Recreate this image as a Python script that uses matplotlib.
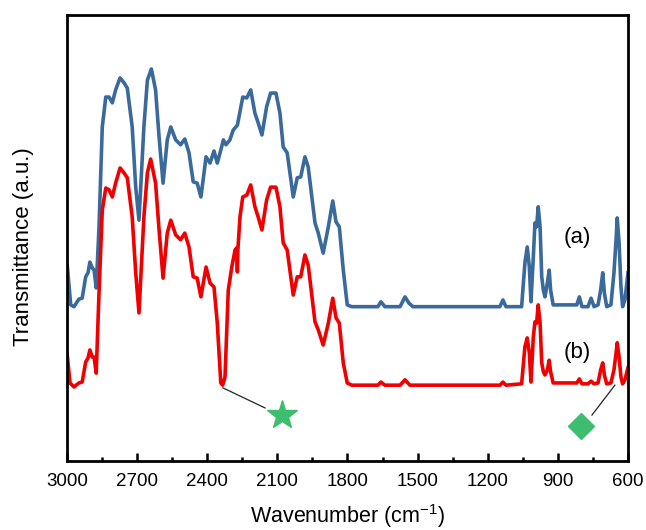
import matplotlib
matplotlib.use("Agg")
import matplotlib.pyplot as plt
from matplotlib.ticker import MultipleLocator

plt.rcParams["font.family"] = ["Liberation Sans", "DejaVu Sans"]
plt.rcParams["mathtext.fontset"] = "custom"
plt.rcParams["mathtext.rm"] = "Liberation Sans"

# Spectrum (a) - wavenumber (cm-1) and transmittance (a.u.)
wn_a = [2999, 2984, 2970, 2949, 2935, 2920, 2910, 2902, 2892, 2884, 2875, 2863, 2849,
        2834, 2820, 2806, 2792, 2773, 2756, 2742, 2721, 2706, 2692, 2671, 2656, 2639,
        2621, 2606, 2589, 2571, 2556, 2535, 2514, 2496, 2478, 2460, 2443, 2427, 2405,
        2388, 2371, 2357, 2342, 2331, 2320, 2303, 2289, 2271, 2248, 2231, 2214, 2196,
        2182, 2166, 2146, 2129, 2106, 2089, 2075, 2058, 2032, 2015, 2000, 1982, 1968,
        1939, 1925, 1904, 1882, 1863, 1849, 1835, 1818, 1801, 1782, 1670, 1657, 1640,
        1575, 1554, 1537, 1520, 1148, 1135, 1122, 1055, 1041, 1031, 1022, 1015, 1005,
        998, 991, 984, 976, 969, 962, 955, 945, 937, 931, 920, 819, 808, 797, 771, 758,
        745, 728, 717, 708, 701, 691, 673, 660, 651, 646, 638, 630, 623, 613, 600]
tr_a = [43.9, 35.0, 34.6, 36.3, 36.5, 41.3, 42.2, 44.6, 43.3, 42.8, 38.8, 52.5, 74.9,
        81.6, 81.6, 80.3, 83.2, 85.9, 84.8, 83.6, 74.9, 61.4, 54.0, 74.9, 85.4, 87.9,
        83.2, 72.6, 62.3, 72.0, 74.9, 72.0, 70.9, 72.2, 69.1, 62.6, 62.3, 59.2, 68.2,
        66.8, 69.5, 66.8, 69.7, 72.0, 70.9, 72.0, 74.2, 75.3, 81.6, 81.4, 83.2, 78.0,
        75.8, 73.1, 79.4, 82.5, 82.5, 78.0, 70.4, 69.1, 59.2, 63.5, 63.7, 68.2, 65.9,
        53.4, 51.1, 46.6, 52.5, 58.3, 53.6, 52.5, 42.8, 35.0, 34.6, 34.6, 35.7, 34.6,
        34.6, 36.8, 35.4, 34.6, 34.6, 36.1, 34.6, 34.6, 44.4, 48.0, 43.5, 35.7, 45.7,
        53.4, 52.5, 57.0, 52.5, 41.3, 38.3, 36.8, 39.9, 42.8, 38.3, 35.0, 35.0, 36.8,
        34.6, 34.6, 36.5, 34.6, 35.0, 38.3, 42.2, 37.7, 34.6, 35.0, 42.2, 49.6, 54.5,
        48.9, 39.0, 34.6, 36.1, 42.2]

# Spectrum (b)
wn_b = [2999, 2987, 2970, 2949, 2935, 2920, 2910, 2902, 2892, 2884, 2875, 2863, 2849,
        2834, 2820, 2806, 2792, 2773, 2756, 2742, 2721, 2706, 2692, 2671, 2656, 2642,
        2621, 2606, 2589, 2571, 2556, 2535, 2514, 2496, 2478, 2460, 2443, 2427, 2405,
        2388, 2371, 2357, 2342, 2334, 2324, 2310, 2295, 2281, 2274, 2271, 2269, 2260,
        2248, 2231, 2214, 2196, 2182, 2166, 2146, 2129, 2106, 2089, 2075, 2058, 2032,
        2015, 2000, 1982, 1968, 1939, 1925, 1904, 1882, 1863, 1849, 1835, 1818, 1801,
        1782, 1670, 1657, 1640, 1575, 1554, 1533, 1148, 1135, 1122, 1055, 1041, 1031,
        1022, 1015, 1005, 998, 991, 984, 976, 969, 962, 955, 945, 937, 931, 920, 819,
        808, 797, 771, 758, 745, 728, 717, 708, 701, 691, 673, 660, 651, 646, 638, 630,
        623, 613, 600]
tr_b = [23.8, 17.5, 16.6, 17.5, 17.7, 22.2, 23.1, 24.9, 23.3, 23.3, 19.7, 37.7, 56.3,
        61.2, 60.8, 59.2, 62.3, 65.7, 64.6, 63.5, 54.7, 42.2, 33.2, 54.7, 64.6, 67.7,
        62.3, 51.8, 41.0, 51.1, 54.0, 50.7, 49.6, 51.1, 48.0, 41.3, 41.0, 36.8, 43.5,
        39.9, 39.0, 30.9, 17.5, 17.0, 18.8, 38.3, 43.5, 47.3, 47.8, 42.4, 47.3, 54.7,
        59.2, 59.6, 61.9, 57.0, 54.7, 51.8, 58.5, 61.4, 61.4, 57.0, 48.9, 47.3, 37.2,
        41.3, 41.3, 46.2, 43.9, 31.2, 29.4, 26.0, 30.9, 36.5, 32.1, 30.9, 22.0, 17.5,
        17.0, 17.0, 17.7, 17.0, 17.0, 18.2, 17.0, 17.0, 17.7, 17.0, 17.3, 25.6, 27.6,
        24.2, 17.7, 27.8, 31.2, 30.9, 35.0, 30.9, 22.0, 20.0, 19.3, 20.4, 22.6, 20.0,
        17.5, 17.5, 18.4, 17.3, 17.3, 17.9, 17.3, 17.5, 20.4, 22.0, 19.3, 17.3, 17.5,
        20.4, 24.2, 26.5, 23.3, 18.8, 17.3, 18.2, 20.9]

# marker positions and connector lines
star_pos = (2080, 10.3)
star_line = ([2333, 2153], [16.4, 11.9])
diamond_pos = (801, 7.8)
diamond_line = ([656, 754], [17.0, 10.3])

fig = plt.figure(figsize=(6.46, 5.30), dpi=100)
ax = fig.add_axes([0.1037, 0.1302, 0.8684, 0.8415])

ax.plot(wn_a, tr_a, color="#3A6A9B", lw=2.6, solid_joinstyle="round")
ax.plot(wn_b, tr_b, color="#F00000", lw=2.6, solid_joinstyle="round")

ax.plot(*star_line, color="#222222", lw=0.9)
ax.plot(*diamond_line, color="#222222", lw=0.9)
ax.plot(*star_pos, marker="*", ms=22, color="#3DBE6E", mec="#3DBE6E", ls="none")
ax.plot(*diamond_pos, marker="D", ms=13, color="#3DBE6E", mec="#3DBE6E", ls="none")

ax.text(818, 50.0, "(a)", fontsize=16, ha="center", va="center")
ax.text(818, 24.4, "(b)", fontsize=16, ha="center", va="center")

ax.set_xlim(3000, 600)
ax.set_ylim(0, 100)
ax.xaxis.set_major_locator(MultipleLocator(300))
ax.xaxis.set_minor_locator(MultipleLocator(150))
ax.set_yticks([])
ax.tick_params(axis="x", which="major", direction="in", length=6, width=1.8,
               labelsize=13.5, pad=9, top=False)
ax.tick_params(axis="x", which="minor", direction="in", length=3, width=1.8, top=False)
for sp in ax.spines.values():
    sp.set_linewidth(2.0)

ax.set_xlabel("Wavenumber (cm$^{-1}$)", fontsize=15.5)
ax.set_ylabel("Transmittance (a.u.)", fontsize=16)
ax.xaxis.set_label_coords(0.5, -0.092)
ax.yaxis.set_label_coords(-0.058, 0.48)

fig.savefig("out.png", dpi=100)
